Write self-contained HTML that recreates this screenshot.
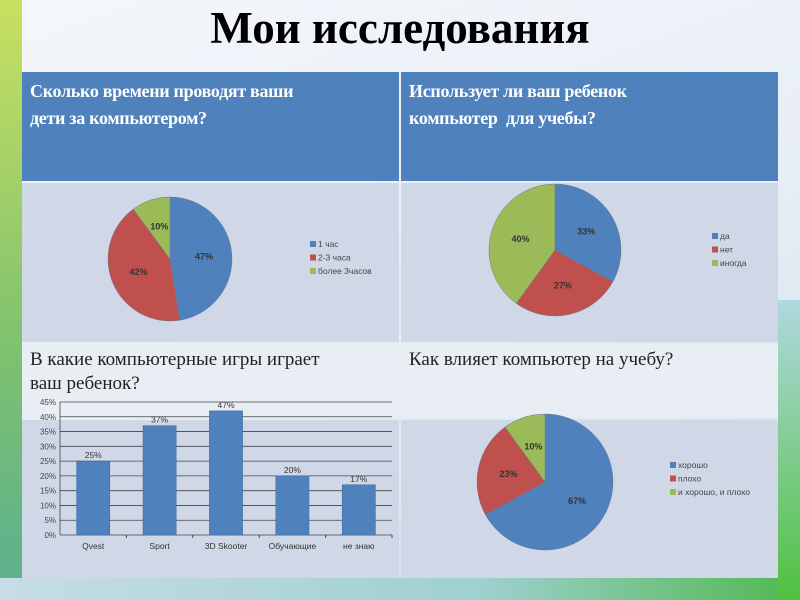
<!DOCTYPE html>
<html><head><meta charset="utf-8"><style>
body{margin:0;width:800px;height:600px;overflow:hidden;position:relative;font-family:"Liberation Serif",serif;background:linear-gradient(160deg,#f4f7fb 0%,#e8eef6 50%,#cfe0ea 100%);}
.cell{position:absolute;box-sizing:border-box;}
.hd{background:#4f81bd;color:#fff;font-weight:bold;font-size:18px;line-height:27px;padding:6px 8px;letter-spacing:-0.3px;}
.l{background:#d0d8e8}.lt{background:#e9edf4;color:#222;font-size:19px;line-height:24px;padding:4px 8px;}
svg text{font-family:"Liberation Sans",sans-serif;}
</style></head><body>
<div style="position:absolute;left:0;top:0;width:22px;height:600px;background:linear-gradient(180deg,#c8e060,#7cc070 60%,#5ab090);"></div>
<div style="position:absolute;left:0;top:578px;width:800px;height:22px;background:linear-gradient(90deg,#c8dde6,#9fd0d0 60%,#50b850);"></div>
<div style="position:absolute;left:778px;top:300px;width:22px;height:300px;background:linear-gradient(180deg,#b0d8e0,#50c040);"></div>
<div style="position:absolute;left:0;top:2px;width:800px;text-align:center;font-size:45px;font-weight:bold;color:#000;">Мои исследования</div>
<div class="cell hd" style="left:22px;top:72px;width:377px;height:109px;">Сколько времени проводят ваши<br>дети за компьютером?</div>
<div class="cell hd" style="left:401px;top:72px;width:377px;height:109px;">Использует ли ваш ребенок<br>компьютер&nbsp; для учебы?</div>
<div class="cell l" style="left:22px;top:183px;width:377px;height:159px;"></div>
<div class="cell l" style="left:401px;top:183px;width:377px;height:159px;"></div>
<div class="cell lt" style="left:22px;top:344px;width:377px;height:74px;">В какие компьютерные игры играет<br>ваш ребенок?</div>
<div class="cell lt" style="left:401px;top:344px;width:377px;height:74px;">Как влияет компьютер на учебу?</div>
<div class="cell l" style="left:22px;top:420px;width:377px;height:158px;"></div>
<div class="cell l" style="left:401px;top:420px;width:377px;height:158px;"></div>
<svg id="svg" width="800" height="600" style="position:absolute;left:0;top:0"></svg>
<script>
const pie1Labels=["1 час","2-3 часа","более 3часов"];
const pie1Values=[47,42,10];
const pie2Labels=["да","нет","иногда"];
const pie2Values=[33,27,40];
const pie3Labels=["хорошо","плохо","и хорошо, и плохо"];
const pie3Values=[67,23,10];
const barCategories=["Qvest","Sport","3D Skooter","Обучающие","не знаю"];
const barValues=[25,37,42,20,17];
const barLabels=["25%","37%","47%","20%","17%"];
const yTicks=[0,5,10,15,20,25,30,35,40,45];
const colors=["#4f81bd","#c0504d","#9bbb59"];
const NS="http://www.w3.org/2000/svg";
const svg=document.getElementById('svg');
function mk(t,a,p){const e=document.createElementNS(NS,t);for(const k in a)e.setAttribute(k,a[k]);(p||svg).appendChild(e);return e;}
function pie(name,cx,cy,r,vals,labels,lx,ly){
  const g=mk('g',{});
  
  
  const tot=vals.reduce((a,b)=>a+b,0);let a0=-Math.PI/2;
  vals.forEach((v,i)=>{
    const a1=a0+v/tot*2*Math.PI;
    const x0=cx+r*Math.cos(a0),y0=cy+r*Math.sin(a0),x1=cx+r*Math.cos(a1),y1=cy+r*Math.sin(a1);
    const p=mk('path',{d:`M${cx},${cy}L${x0},${y0}A${r},${r} 0 ${a1-a0>Math.PI?1:0} 1 ${x1},${y1}Z`,fill:colors[i],stroke:'#6a7a90','stroke-width':0.5},g);
    
    
    const am=(a0+a1)/2;
    const t=mk('text',{x:cx+r*0.55*Math.cos(am),y:cy+r*0.55*Math.sin(am)+3,'font-size':9,'text-anchor':'middle',fill:'#333','font-weight':'bold'},g);
    t.textContent=v+'%';
    
    
    a0=a1;
  });
  labels.forEach((l,i)=>{
    const rc=mk('rect',{x:lx,y:ly+i*13.5-4,width:6,height:6,fill:colors[i]},g);
    
    
    const t=mk('text',{x:lx+8,y:ly+i*13.5+2,'font-size':8.5,fill:'#444'},g);
    t.textContent=l;
    
    
  });
}
pie('pie-time',170,259,62,pie1Values,pie1Labels,310,245);
pie('pie-study',555,250,66,pie2Values,pie2Labels,712,237);
pie('pie-influence',545,482,68,pie3Values,pie3Labels,670,466);
const x0=60,x1=392,yb=535,yt=402,ymax=45;
const Y=v=>yb-(v/ymax)*(yb-yt);
const bw=(x1-x0)/barCategories.length;
const bg=mk('g',{});


yTicks.forEach(v=>{
  mk('line',{x1:x0,x2:x1,y1:Y(v),y2:Y(v),stroke:'#444','stroke-width':0.8},bg);
  const t=mk('text',{x:x0-4,y:Y(v)+3,'font-size':8,'text-anchor':'end',fill:'#444'},bg);
  t.textContent=v+'%';
  
  
});
mk('line',{x1:x0,x2:x0,y1:yt,y2:yb,stroke:'#444','stroke-width':0.8},bg);
barCategories.forEach((c,i)=>{
  const bx=x0+i*bw+bw*0.25;
  const r=mk('rect',{x:bx,y:Y(barValues[i]),width:bw*0.5,height:yb-Y(barValues[i]),fill:'#4f81bd',stroke:'#3a6aa0','stroke-width':0.5},bg);
  
  
  const t=mk('text',{x:bx+bw*0.25,y:Y(barValues[i])-3,'font-size':8.5,'text-anchor':'middle',fill:'#333'},bg);
  t.textContent=barLabels[i];
  
  
  const c2=mk('text',{x:x0+i*bw+bw/2,y:yb+14,'font-size':8.5,'text-anchor':'middle',fill:'#333'},bg);
  c2.textContent=c;
  
  
  mk('line',{x1:x0+(i+1)*bw,x2:x0+(i+1)*bw,y1:yb,y2:yb+3,stroke:'#444'},bg);
});
</script>
</body></html>
